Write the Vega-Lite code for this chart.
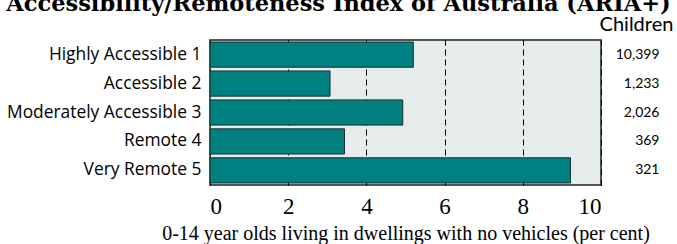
{
  "$schema": "https://vega.github.io/schema/vega-lite/v6.json",
  "width": 391,
  "height": 145,
  "autosize": {"type": "none"},
  "padding": {"left": 210, "top": 40, "right": 76, "bottom": 59},
  "background": "white",
  "title": {
    "text": "Accessibility/Remoteness Index of Australia (ARIA+)",
    "font": "DejaVu Serif",
    "fontSize": 22.5,
    "fontWeight": "bold",
    "color": "#000000",
    "anchor": "middle",
    "dx": -67,
    "offset": 10,
    "dy": 11
  },
  "view": {"fill": "#e5ece9", "stroke": "#222222", "strokeWidth": 1.5},
  "data": {
    "values": [
      {"region": "Highly Accessible 1", "pct": 5.2, "children": "10,399"},
      {"region": "Accessible 2", "pct": 3.07, "children": "1,233"},
      {"region": "Moderately Accessible 3", "pct": 4.93, "children": "2,026"},
      {"region": "Remote 4", "pct": 3.44, "children": "369"},
      {"region": "Very Remote 5", "pct": 9.22, "children": "321"}
    ]
  },
  "layer": [
    {
      "mark": {"type": "bar", "fill": "#008080", "stroke": "#1c2e2e", "strokeWidth": 1},
      "encoding": {
        "y": {
          "field": "region",
          "type": "nominal",
          "sort": null,
          "scale": {"paddingInner": 0.13, "paddingOuter": 0.07},
          "axis": {
            "title": null,
            "domain": false,
            "ticks": false,
            "labelFont": "Open Sans",
            "labelFontSize": 17.4,
            "labelColor": "#000000",
            "labelPadding": 9,
            "labelLimit": 300
          }
        },
        "x": {
          "field": "pct",
          "type": "quantitative",
          "scale": {"domain": [0, 10], "nice": false},
          "axis": {
            "values": [0, 2, 4, 6, 8, 10],
            "grid": true,
            "gridColor": "#000000",
            "gridDash": [6, 4],
            "gridWidth": 1,
            "gridOpacity": 1,
            "domain": false,
            "tickSize": -5,
            "tickColor": "#000000",
            "labelFont": "Liberation Serif",
            "labelFontSize": 23,
            "labelColor": "#000000",
            "labelPadding": 15,
            "title": "0-14 year olds living in dwellings with no vehicles (per cent)",
            "titleFont": "Liberation Serif",
            "titleFontSize": 20,
            "titleFontWeight": "normal",
            "titleColor": "#000000",
            "titlePadding": 5
          }
        }
      }
    },
    {
      "mark": {"type": "bar", "opacity": 0},
      "encoding": {
        "y": {
          "field": "children",
          "type": "nominal",
          "sort": null,
          "scale": {"paddingInner": 0.13, "paddingOuter": 0.07},
          "axis": {
            "orient": "right",
            "domain": false,
            "ticks": false,
            "labelFont": "Lato",
            "labelFontSize": 14,
            "labelColor": "#000000",
            "labelAlign": "right",
            "labelPadding": 58,
            "title": "Children",
            "titleAngle": 0,
            "titleFont": "Lato",
            "titleFontSize": 20,
            "titleFontWeight": "normal",
            "titleColor": "#000000",
            "titleAlign": "center",
            "titleBaseline": "middle",
            "titleX": 35,
            "titleY": -16
          }
        },
        "x": {
          "field": "pct",
          "type": "quantitative",
          "scale": {"domain": [0, 10], "nice": false},
          "axis": {
            "orient": "top",
            "values": [2, 4, 6, 8],
            "labels": false,
            "grid": false,
            "domain": false,
            "tickSize": -5,
            "tickColor": "#000000",
            "title": null
          }
        }
      }
    }
  ],
  "resolve": {
    "scale": {"y": "independent"},
    "axis": {"y": "independent", "x": "independent"}
  }
}
